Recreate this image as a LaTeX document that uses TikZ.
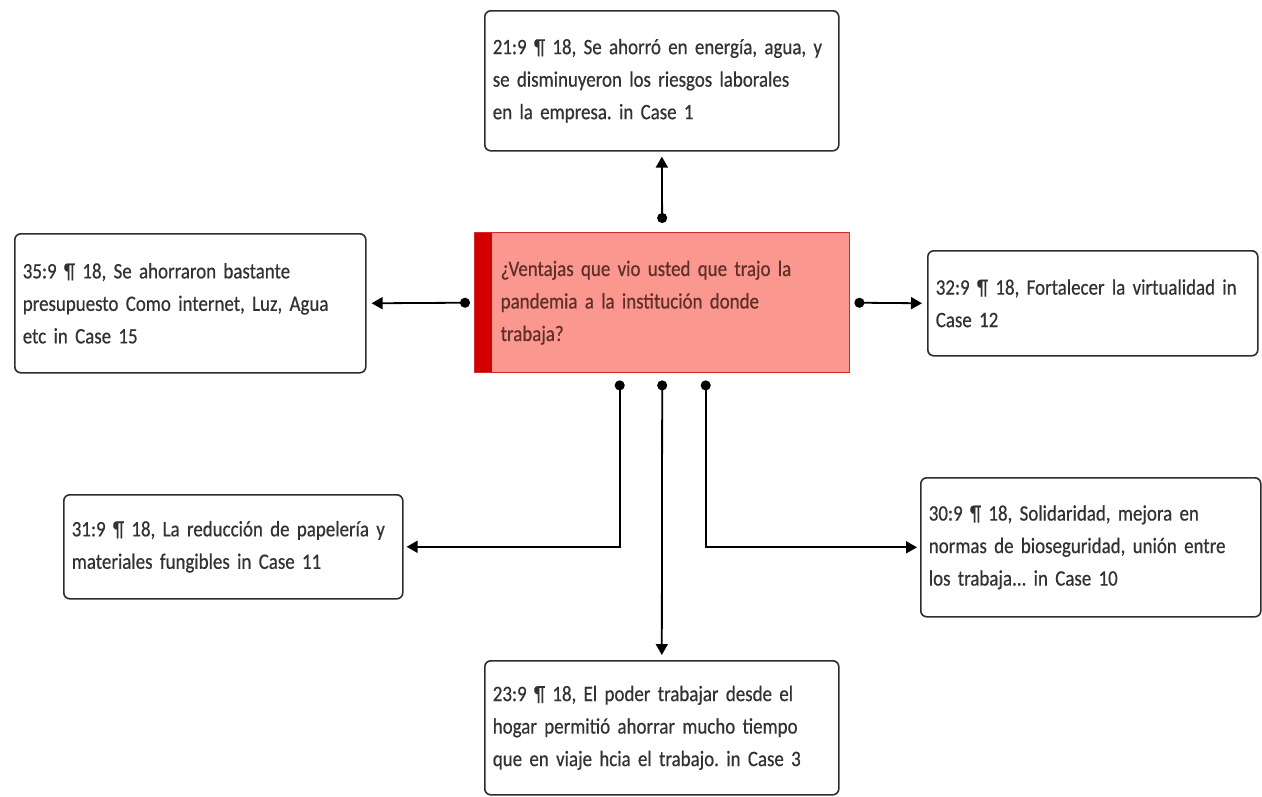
\documentclass[tikz,border=0pt]{standalone}
\usepackage{fontspec}
\setmainfont{Carlito}[FakeStretch=0.86, FakeBold=0.5]
\usetikzlibrary{arrows.meta,calc}
\definecolor{boxtext}{RGB}{50,50,50}
\definecolor{boxline}{RGB}{45,45,45}
\definecolor{qfill}{RGB}{250,152,143}
\definecolor{qline}{RGB}{215,40,40}
\definecolor{qbar}{RGB}{210,0,0}
\definecolor{qtext}{RGB}{95,45,42}
\frenchspacing
\newcommand\boxfont{\fontsize{22}{32.5}\selectfont\spaceskip=3.2pt plus 1pt minus 1pt\relax}

\tikzset{
  quote/.style={draw=boxline, line width=1.6pt, rounded corners=6pt, fill=white,
    text=boxtext, align=left, anchor=north west, inner xsep=8pt, font=\boxfont},
  link/.style={line width=1.8pt, {Circle[length=10pt]}-{Triangle[length=11pt,width=12pt]}},
}

\begin{document}
\begin{tikzpicture}[x=1pt,y=-1pt]
  \useasboundingbox (0,0) rectangle (1262,796);

  % the question
  \node[anchor=north west, draw=qline, line width=1.4pt, fill=qfill, text=qtext,
        minimum width=375, minimum height=140, text width=323, inner xsep=26pt,
        align=left, font=\boxfont,
        path picture={\fill[qbar] (path picture bounding box.north west)
          rectangle ([xshift=17pt]path picture bounding box.south west);}]
    (cent) at (474,232) {¿Ventajas que vio usted que trajo la\\pandemia a la institución donde\\trabaja?};

  % the quotations
  \node[quote, minimum width=354, minimum height=140, text width=338] (top) at (484,10)
    {21:9 ¶ 18, Se ahorró en energía, agua, y\\se disminuyeron los riesgos laborales\\en la empresa. in Case 1};
  \node[quote, minimum width=351, minimum height=139, text width=335] (left) at (14,233)
    {35:9 ¶ 18, Se ahorraron bastante\\presupuesto Como internet, Luz, Agua\\etc in Case 15};
  \node[quote, minimum width=330, minimum height=105, text width=314] (right) at (927,250)
    {32:9 ¶ 18, Fortalecer la virtualidad in\\Case 12};
  \node[quote, minimum width=339, minimum height=104, text width=323] (botl) at (63,494)
    {31:9 ¶ 18, La reducción de papelería y\\materiales fungibles in Case 11};
  \node[quote, minimum width=340, minimum height=139, text width=324] (botr) at (920,477)
    {30:9 ¶ 18, Solidaridad, mejora en\\normas de bioseguridad, unión entre\\los trabaja... in Case 10};
  \node[quote, minimum width=354, minimum height=134, text width=338] (bot) at (484,660)
    {23:9 ¶ 18, El poder trabajar desde el\\hogar permitió ahorrar mucho tiempo\\que en viaje hcia el trabajo. in Case 3};

  % links
  \draw[link, shorten >=5pt] ([yshift=9pt]cent.north) -- (top.south);
  \draw[link, shorten >=5pt] ([xshift=-4pt]cent.west) -- (left.east);
  \draw[link, shorten >=5pt] ([xshift=4pt]cent.east) -- (right.west);
  \draw[link, shorten >=3pt] ([xshift=-42.5pt,yshift=-7pt]cent.south) |- (botl.east);
  \draw[link, shorten >=5pt] ([yshift=-7pt]cent.south) -- (bot.north);
  \draw[link, shorten >=3pt] ([xshift=43.5pt,yshift=-7pt]cent.south) |- (botr.west);
\end{tikzpicture}
\end{document}
